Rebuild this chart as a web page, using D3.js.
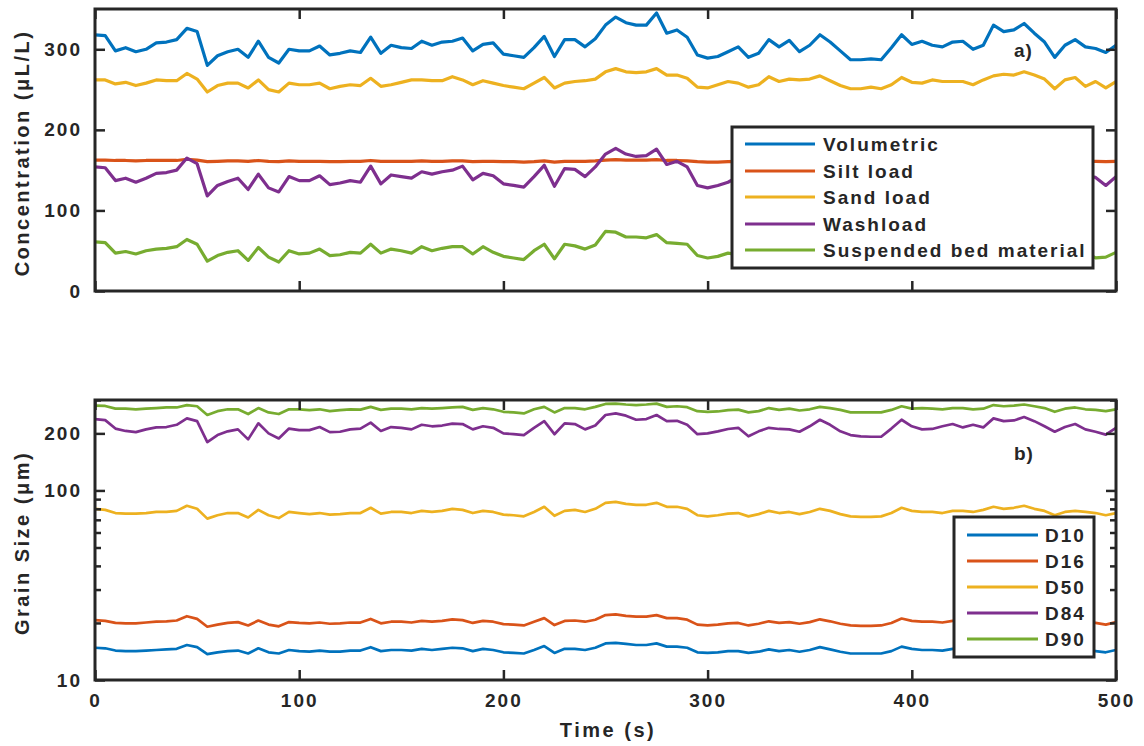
<!DOCTYPE html>
<html><head><meta charset="utf-8">
<script src="https://cdn.jsdelivr.net/npm/d3@7"></script>
<style>
body{margin:0;background:#fff;}
svg text{font-family:"Liberation Sans",Arial,Helvetica,sans-serif;fill:#262626;font-weight:bold;}
</style></head><body>
<svg id="chart" width="1144" height="746"></svg>
<script>
// ---------------- DATA ----------------
const timeS = [0,5,10,15,20,25,30,35,40,45,50,55,60,65,70,75,80,85,90,95,
 100,105,110,115,120,125,130,135,140,145,150,155,160,165,170,175,180,185,190,195,
 200,205,210,215,220,225,230,235,240,245,250,255,260,265,270,275,280,285,290,295,
 300,305,310,315,320,325,330,335,340,345,350,355,360,365,370,375,380,385,390,395,
 400,405,410,415,420,425,430,435,440,445,450,455,460,465,470,475,480,485,490,495,500];

const volumetric = [318,317,298,302,297,300,308,309,312,326,322,280,292,297,300,290,310,290,283,300,
 298,298,304,293,295,298,296,315,295,305,302,301,310,305,309,310,314,298,306,308,
 294,292,290,302,316,291,312,312,303,313,330,340,333,330,330,345,320,324,315,293,
 289,291,297,303,290,295,312,303,311,297,305,318,309,298,287,287,288,287,302,318,
 306,310,305,303,309,310,300,305,330,322,324,332,320,309,290,305,312,303,301,296,305];
const siltLoad = [162.5,162.5,162,162,161.5,162,162,162,162,163.5,162.5,160.5,161,161.5,161.5,161,162,161,160.5,161.5,
 161,161,161,160.5,160.5,161,161,162,161,161,161,161,161.5,161,161,161.5,161.5,160.5,161,161,
 160.5,160.5,160,160.5,161.5,160,161,161,161,161.5,162.5,163,162.5,162.5,162.5,163,162,162,161.5,160.5,
 160,160,160.5,161,160.5,160.5,161,160.5,161,160.5,161,161.5,161,160.5,160,160,160,160,160.5,161.5,
 161,161,161,161,161,161,160.5,161,162,161.5,161.5,162,161.5,161,160.5,161,161,161,161,160.5,161];
const sandLoad = [262,262,257,259,255,258,262,261,261,270,263,247,255,258,258,252,262,250,247,258,
 256,256,258,251,254,256,255,264,254,256,259,262,262,261,261,266,262,256,261,258,
 255,253,251,258,265,252,258,260,261,263,272,276,272,271,272,276,268,268,264,253,
 252,256,260,258,253,256,266,260,263,262,263,267,261,255,251,251,253,251,256,265,
 259,258,262,260,260,260,256,262,267,269,268,272,268,263,251,262,265,254,260,252,260];
const washload = [154,153,137,140,135,140,146,147,150,165,158,118,131,136,140,126,145,128,123,142,
 137,137,143,132,134,137,135,155,133,144,142,140,148,145,148,150,155,138,146,143,
 133,131,129,142,156,130,152,151,142,154,170,177,170,167,168,176,157,161,154,131,
 128,131,135,142,130,135,151,142,150,136,144,158,149,138,127,127,128,127,142,158,
 146,150,145,143,149,150,140,145,170,162,164,172,160,149,130,145,152,143,141,131,142];
const bedMaterial = [61,60,47,49,46,50,52,53,55,64,58,37,44,48,50,38,54,42,36,50,
 46,47,52,44,45,48,47,58,47,52,50,47,55,50,53,55,55,46,55,48,
 43,41,39,50,58,40,58,56,52,57,74,73,67,67,66,70,60,59,58,44,
 41,43,47,45,38,40,47,43,48,36,42,51,48,43,37,36,35,36,46,53,
 47,51,43,43,48,49,44,43,62,54,56,60,52,46,38,43,47,48,41,42,48];

const d10 = [14.8,14.7,14.3,14.2,14.2,14.3,14.4,14.5,14.6,15.3,14.9,13.7,14.0,14.2,14.3,13.8,14.7,14.0,13.8,14.4,
 14.2,14.1,14.3,14.1,14.1,14.3,14.3,14.9,14.2,14.4,14.4,14.3,14.6,14.4,14.6,14.8,14.7,14.2,14.6,14.4,
 14.0,13.9,13.8,14.4,15.1,13.9,14.6,14.6,14.4,14.8,15.6,15.7,15.5,15.3,15.3,15.6,15.0,15.0,14.8,14.0,
 13.9,14.0,14.2,14.2,13.9,14.1,14.5,14.2,14.4,14.1,14.4,14.9,14.5,14.1,13.8,13.8,13.8,13.8,14.2,15.0,
 14.6,14.4,14.4,14.3,14.6,14.6,14.4,14.6,15.1,14.9,15.0,15.3,14.9,14.6,14.0,14.4,14.6,14.4,14.2,14.0,14.4];
const d16 = [20.7,20.5,20.0,19.9,19.9,20.1,20.3,20.4,20.6,21.7,21.0,19.1,19.6,20.0,20.2,19.4,20.6,19.6,19.2,20.2,
 20.0,19.9,20.1,19.8,19.9,20.1,20.1,21.0,19.9,20.3,20.3,20.1,20.5,20.3,20.5,20.9,20.7,20.0,20.5,20.3,
 19.7,19.6,19.4,20.3,21.2,19.5,20.5,20.6,20.3,20.8,22.0,22.2,21.8,21.6,21.6,22.0,21.2,21.2,20.8,19.6,
 19.4,19.6,19.9,20.0,19.4,19.8,20.4,20.0,20.2,19.8,20.2,20.9,20.4,19.8,19.4,19.3,19.3,19.4,20.0,21.1,
 20.5,20.3,20.3,20.1,20.5,20.5,20.2,20.6,21.3,20.9,21.0,21.5,20.9,20.5,19.6,20.3,20.5,20.2,20.0,19.6,20.2];
const d50 = [80,79,76,75.5,75.5,76,77,77,78,83,80,71,74,76,76,72,79,74,71.5,77,
 76,75,76,74.5,75,76,76,81,75.5,77,77,76,78,77,78,80,79,76,78,77,
 74.5,74,73,77,82,73.5,78,79,77,80,86,87,85,84,84,86,82,82,80,74,
 73,74,75.5,76,73,75,78,76,77,75,77,80,78,75,73,72.5,72.5,73,76,81,
 78,77,77,76,78,78,77,79,82,80,81,83,80,78,74,77,78,77,76,74,76];
const d84 = [238,235,212,206,203,210,215,216,222,240,232,180,196,205,210,186,226,200,188,212,
 208,208,216,203,204,210,212,228,206,216,214,210,222,218,220,225,224,210,218,214,
 200,198,196,214,232,198,226,224,210,220,250,255,248,236,238,250,232,233,222,198,
 200,205,211,214,193,205,214,211,210,204,218,236,222,205,196,193,192,192,212,236,
 218,210,211,218,224,215,222,215,240,232,234,244,232,218,204,216,224,210,204,197,214];
const d90 = [280,279,270,270,268,270,272,274,274,282,278,250,262,268,268,253,272,258,253,268,
 268,265,268,262,265,268,267,276,266,270,270,268,272,270,272,274,276,266,272,268,
 260,258,255,268,276,258,272,272,268,276,286,287,284,282,284,287,276,278,275,262,
 260,261,265,267,258,262,272,266,270,264,268,276,272,266,258,258,258,258,266,278,
 270,272,270,268,272,272,268,270,282,278,280,284,278,272,260,270,274,268,266,262,268];

const topNames = ["Volumetric","Silt load","Sand load","Washload","Suspended bed material"];
const botNames = ["D10","D16","D50","D84","D90"];
const xTicks = [0,100,200,300,400,500];
const yTopTicks = [0,100,200,300];
const yBotTicks = [10,100,200];
const yBotMinor = [20,30,40,50,60,70,80,90,300];
const colors = ["#0072BD","#D95319","#EDB120","#7E2F8E","#77AC30"];

// ---------------- CHART ----------------
const svg = d3.select("#chart");
const ink = "#262626";
const L = 95, R = 1116;
const x = d3.scaleLinear().domain([0,500]).range([L,R]);
const yTop = d3.scaleLinear().domain([0,350]).range([291,9]);
const yBot = d3.scaleLog().domain([10,300]).range([680,400]);

const defs = svg.append("defs");
defs.append("clipPath").attr("id","clipTop").append("rect")
  .attr("x",L).attr("y",9).attr("width",R-L).attr("height",282);
defs.append("clipPath").attr("id","clipBot").append("rect")
  .attr("x",L).attr("y",400).attr("width",R-L).attr("height",280);

function drawLines(series, yScale, clip, width){
  const line = d3.line().x((d,i)=>x(timeS[i])).y(d=>yScale(d));
  const g = svg.append("g").attr("clip-path",`url(#${clip})`);
  series.forEach((s,k)=>{
    g.append("path").attr("d",line(s)).attr("fill","none")
     .attr("stroke",colors[k]).attr("stroke-width",width)
     .attr("stroke-linejoin","round").attr("stroke-linecap","round");
  });
}
drawLines([volumetric,siltLoad,sandLoad,washload,bedMaterial], yTop, "clipTop", 3.2);
drawLines([d10,d16,d50,d84,d90], yBot, "clipBot", 2.7);

function styleAxis(g){
  g.select(".domain").remove();
  g.selectAll(".tick line").attr("stroke",ink).attr("stroke-width",2.5);
  g.selectAll(".tick text").style("font-size","19px").style("letter-spacing","2px")
    .attr("fill",ink);
}
function panel(yScale, yTicks, top, bottom, showX, minor){
  const gb = svg.append("g").attr("transform",`translate(0,${bottom})`)
    .call(d3.axisBottom(x).tickValues(xTicks).tickSize(-10).tickPadding(14)
      .tickFormat(showX ? d3.format("d") : ""));
  styleAxis(gb);
  const gt = svg.append("g").attr("transform",`translate(0,${top})`)
    .call(d3.axisTop(x).tickValues(xTicks).tickSize(-10).tickFormat(""));
  styleAxis(gt);
  const gl = svg.append("g").attr("transform",`translate(${L},0)`)
    .call(d3.axisLeft(yScale).tickValues(yTicks).tickSize(-10).tickPadding(13).tickFormat(d3.format("d")));
  styleAxis(gl);
  const gr = svg.append("g").attr("transform",`translate(${R},0)`)
    .call(d3.axisRight(yScale).tickValues(yTicks).tickSize(-10).tickFormat(""));
  styleAxis(gr);
  if (minor){
    const ml = svg.append("g").attr("transform",`translate(${L},0)`)
      .call(d3.axisLeft(yScale).tickValues(minor).tickSize(-6).tickFormat(""));
    styleAxis(ml);
    const mr = svg.append("g").attr("transform",`translate(${R},0)`)
      .call(d3.axisRight(yScale).tickValues(minor).tickSize(-6).tickFormat(""));
    styleAxis(mr);
  }
  svg.append("rect").attr("x",L).attr("y",top).attr("width",R-L).attr("height",bottom-top)
    .attr("fill","none").attr("stroke",ink).attr("stroke-width",3);
}
panel(yTop, yTopTicks, 9, 291, false, null);
panel(yBot, yBotTicks, 400, 680, true, yBotMinor);

function title(txt, tx, ty, rot){
  svg.append("text").attr("transform",`translate(${tx},${ty}) rotate(${rot})`)
    .attr("text-anchor","middle").attr("dominant-baseline","central")
    .style("font-size","20px").style("letter-spacing","2.5px").text(txt);
}
title("Concentration (\u03BCL/L)", 22, 153, -90);
title("Grain Size (\u03BCm)", 22, 543, -90);
title("Time (s)", 608, 730, 0);

svg.append("text").attr("x",1014).attr("y",50).attr("dominant-baseline","central")
  .style("font-size","19px").style("letter-spacing","1px").text("a)");
svg.append("text").attr("x",1014).attr("y",453).attr("dominant-baseline","central")
  .style("font-size","19px").style("letter-spacing","1px").text("b)");

function legend(names, bx, by, bw, bh, lx1, lx2, tx, ys){
  const g = svg.append("g");
  g.append("rect").attr("x",bx).attr("y",by).attr("width",bw).attr("height",bh)
    .attr("fill","#fff").attr("stroke",ink).attr("stroke-width",3);
  names.forEach((n,i)=>{
    g.append("line").attr("x1",lx1).attr("x2",lx2).attr("y1",ys[i]).attr("y2",ys[i])
      .attr("stroke",colors[i]).attr("stroke-width",3);
    g.append("text").attr("x",tx).attr("y",ys[i]).attr("dominant-baseline","central")
      .style("font-size","19px").style("letter-spacing","2px").text(n);
  });
}
legend(topNames, 732, 127, 361, 141, 745, 815, 823, [144,171,197,224,250]);
legend(botNames, 954, 517, 140, 140, 967, 1038, 1045, [535,561,587,613,639]);
</script></body></html>
